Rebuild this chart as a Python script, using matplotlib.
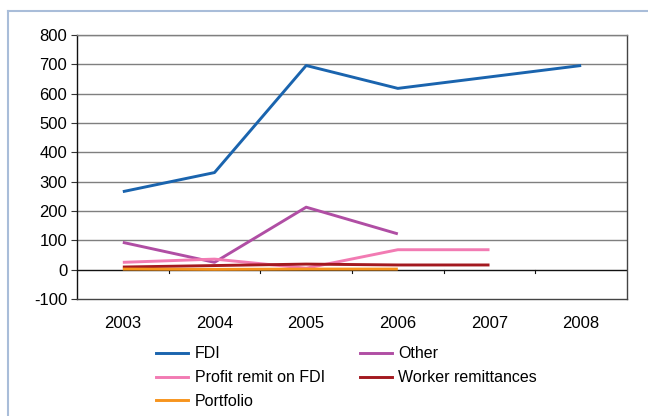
import matplotlib
matplotlib.use("Agg")
import matplotlib.pyplot as plt
from matplotlib.lines import Line2D
import numpy as np

years = ["2003", "2004", "2005", "2006", "2007", "2008"]
fdi = [266, 331, 696, 618, 657, 696]
other = [93, 25, 213, 122, None, None]
profit_remit = [25, 36, 5, 68, 68, None]
worker_remit = [9, 14, 19, 16, 16, None]
portfolio = [2, 1, 2, 2, None, None]

series = [
    ("FDI", fdi, "#1a64ae"),
    ("Other", other, "#b04ea4"),
    ("Profit remit on FDI", profit_remit, "#f27bb3"),
    ("Worker remittances", worker_remit, "#a3191f"),
    ("Portfolio", portfolio, "#f7941d"),
]

plt.rcParams["font.family"] = ["Liberation Sans", "DejaVu Sans"]
plt.rcParams["axes.unicode_minus"] = False

fig = plt.figure(figsize=(6.48, 4.16), dpi=100)
W, H = 648, 416
ax = fig.add_axes([77 / W, 1 - 299 / H, 550 / W, 264 / H])

x = np.arange(len(years))
for name, vals, col in series:
    y = np.array([np.nan if v is None else v for v in vals], dtype=float)
    ax.plot(x, y, color=col, lw=2.1, solid_capstyle="butt", zorder=3)

ax.set_xlim(-0.5, len(years) - 0.5)
ax.set_ylim(-100, 800)
ax.set_yticks(range(-100, 801, 100))
ax.tick_params(axis="y", labelsize=12, length=4, width=0.8, pad=3, color="#333333")
ax.set_xticks(x)
ax.set_xticklabels(years)
ax.tick_params(axis="x", length=0, labelsize=12, pad=12)

# gridlines
for v in range(100, 801, 100):
    ax.axhline(v, color="#7f7f7f", lw=1.0, zorder=1)
ax.axhline(0, color="#111111", lw=1.0, zorder=2)
# category separators on the zero line
for b in np.arange(0.5, len(years) - 0.5, 1.0):
    ax.plot([b, b], [0, -12], color="#111111", lw=0.8, zorder=2)

ax.spines["left"].set_color("#111111")
for s in ["right", "bottom"]:
    ax.spines[s].set_color("#444444")
ax.spines["top"].set_color("#7f7f7f")
for s in ax.spines.values():
    s.set_linewidth(1.0)

handles = [Line2D([], [], color=c, lw=2.1) for _, _, c in series]
labels = [n for n, _, _ in series]
order = [0, 2, 4, 1, 3]
fig.legend([handles[i] for i in order], [labels[i] for i in order],
           ncol=2, frameon=False, fontsize=11.5,
           loc="upper left", bbox_to_anchor=(150 / W, 1 - 340 / H),
           handlelength=2.0, handletextpad=0.4, columnspacing=2.2,
           labelspacing=0.55, borderaxespad=0)

# outer light-blue frame
fig.add_artist(Line2D([8 / W, 8 / W], [0, 1 - 11 / H], color="#a9bdd9", lw=1.5))
fig.add_artist(Line2D([8 / W, 1], [1 - 11 / H, 1 - 11 / H], color="#a9bdd9", lw=1.5))

fig.savefig("out.png", dpi=100)
